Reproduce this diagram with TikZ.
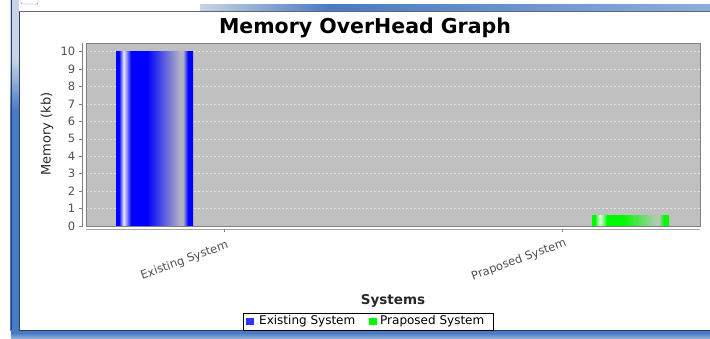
\documentclass[tikz,border=0pt]{standalone}
\usepackage{fontspec}
\setmainfont{DejaVu Sans}
\definecolor{plotbg}{RGB}{192,192,192}
\definecolor{plotedge}{RGB}{128,128,128}
\definecolor{gridc}{RGB}{230,230,230}
\definecolor{tickgray}{RGB}{80,80,80}
\definecolor{labgray}{RGB}{40,40,40}
\definecolor{barblue}{RGB}{0,0,255}
\definecolor{blueglow}{RGB}{236,236,255}
\definecolor{bluefade}{RGB}{178,178,196}
\definecolor{bargreen}{RGB}{0,250,0}
\definecolor{greenglow}{RGB}{236,255,236}
\definecolor{greenfade}{RGB}{180,200,180}
\definecolor{frameblue}{RGB}{74,122,196}
\definecolor{framedark}{RGB}{36,64,110}
\definecolor{framelight}{RGB}{200,212,228}
\definecolor{barlight}{RGB}{140,174,220}
% glossy bar gradients; the bar itself maps onto 25bp..75bp
\pgfdeclarehorizontalshading{bluebar}{100bp}{color(0bp)=(barblue); color(26.95bp)=(barblue);
  color(29.94bp)=(blueglow); color(34.74bp)=(barblue); color(45.13bp)=(barblue);
  color(66.56bp)=(bluefade); color(68.51bp)=(bluefade); color(71.75bp)=(barblue); color(100bp)=(barblue)}
\pgfdeclarehorizontalshading{greenbar}{100bp}{color(0bp)=(bargreen); color(26.95bp)=(bargreen);
  color(29.94bp)=(greenglow); color(34.74bp)=(bargreen); color(45.13bp)=(bargreen);
  color(66.56bp)=(greenfade); color(68.51bp)=(greenfade); color(71.75bp)=(bargreen); color(100bp)=(bargreen)}
\tikzset{
  ticklab/.style={anchor=east,inner sep=0pt,text=tickgray,font=\fontsize{11.5}{13}\selectfont},
  catlab/.style={anchor=east,inner sep=0pt,rotate=20,text=tickgray,font=\fontsize{11.5}{13}\selectfont},
  legtext/.style={anchor=west,inner sep=0pt,font=\fontsize{12}{14}\selectfont},
  axisline/.style={plotedge,line width=0.6pt},
}
\begin{document}
\begin{tikzpicture}[x=1pt,y=-1pt]
\useasboundingbox (0,0) rectangle (710,338);
\fill[white] (0,0) rectangle (710,338);

% window frame
\fill[framelight] (10,0) rectangle (19,90);
\shade[top color=framelight,bottom color=frameblue] (10,60) rectangle (19,110);
\fill[frameblue] (10,110) rectangle (19,331);
\draw[framedark,line width=0.8pt] (11,0) -- (11,336);
\draw[framedark,line width=0.8pt] (19,12) -- (19,330);
\shade[left color=framelight,right color=frameblue] (200,4) rectangle (330,11);
\shade[left color=frameblue,right color=barlight] (330,4) rectangle (710,11);
\draw[gray!80!black] (19,11.5) -- (710,11.5);
\draw[gray,rounded corners=1pt] (21,-2) rectangle (38,4);
\fill[frameblue] (11,330) rectangle (710,338);
\shade[top color=frameblue,bottom color=barlight] (11,333) rectangle (710,338);
\draw[framedark,line width=0.9pt] (19,330.5) -- (710,330.5);

% title
\node[anchor=base,inner sep=0pt,font=\bfseries\fontsize{20.5}{24}\selectfont] (title) at (365,33) {Memory OverHead Graph};

% plot area
\fill[plotbg] (86,43) rectangle (700,226);
\foreach \k in {1,...,10}
  \draw[gridc,dash pattern=on 2pt off 2pt,line width=0.5pt] (86,{226-17.43*\k}) -- (700,{226-17.43*\k});

% bars
\shade[shading=bluebar] (116,51.7) rectangle (193,226);
\shade[shading=greenbar] (592,215) rectangle (669,226);

\draw[plotedge,line width=0.8pt] (86,43) rectangle (700,226);

% value axis
\draw[axisline] (82,43) -- (82,227);
\foreach \k in {0,...,10}{
  \draw[axisline] (78.5,{226-17.43*\k}) -- (82,{226-17.43*\k});
  \node[ticklab] (yt\k) at (75.5,{226-17.43*\k}) {\k};
}
\node[rotate=90,inner sep=0pt,text=labgray,font=\fontsize{13}{15}\selectfont] (ylab) at (47,134) {Memory (kb)};

% category axis
\draw[plotedge!70,line width=0.6pt] (86,229) -- (700,229);
\draw[axisline] (224,229) -- (224,232);
\draw[axisline] (562,229) -- (562,232);
\node[catlab] (c1) at (228,245) {Existing System};
\node[catlab] (c2) at (566,243) {Praposed System};
\node[anchor=base,inner sep=0pt,text=labgray,font=\bfseries\fontsize{13.5}{16}\selectfont] (xlab) at (393,304) {Systems};

% legend
\draw[black,line width=0.7pt,fill=white] (243,313) rectangle (493,330);
\fill[barblue!80!white] (246,318) rectangle (254,324.5);
\node[legtext] (l1) at (259,321.5) {Existing System};
\fill[bargreen] (369,318) rectangle (377,324.5);
\node[legtext] (l2) at (380,321.5) {Praposed System};
\end{tikzpicture}
\end{document}
